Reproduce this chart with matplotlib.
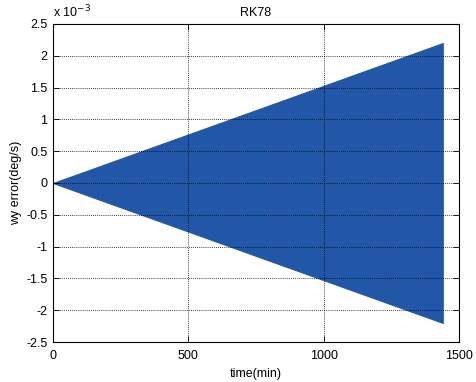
import numpy as np
import matplotlib.pyplot as plt

plt.rcParams['font.family'] = ['Liberation Sans', 'DejaVu Sans']
plt.rcParams['font.size'] = 9

# envelope of the wy error oscillation (deg/s)
time_min = [0, 1440]
wy_err_peak = [0.0, 2.2e-3]

xticks = [0, 500, 1000, 1500]
yticks = [-2.5, -2, -1.5, -1, -0.5, 0, 0.5, 1, 1.5, 2, 2.5]

fig = plt.figure(figsize=(4.76, 3.82), dpi=100)
ax = fig.add_axes([0.1113, 0.1047, 0.8530, 0.8325])

t = np.array(time_min)
env = np.array(wy_err_peak)
ax.fill_between(t, -env, env, color='#2256a7', linewidth=0.8, edgecolor='#2256a7')

ax.set_xlim(0, 1500)
ax.set_ylim(-2.5e-3, 2.5e-3)
ax.set_xticks(xticks)
ax.set_yticks([v * 1e-3 for v in yticks])
ax.set_yticklabels([('%g' % v) for v in yticks])
ax.tick_params(direction='in', top=True, right=True, length=4, width=0.6)
ax.tick_params(axis='x', pad=6)
ax.tick_params(axis='y', pad=4)
ax.grid(True, color='black', linestyle=(0, (1, 1.5)), linewidth=0.6)
for s in ax.spines.values():
    s.set_linewidth(0.8)

ax.text(0.0, 1.012, r'x 10$^{-3}$', transform=ax.transAxes, ha='left', va='bottom', fontsize=9)
ax.set_title('RK78', fontsize=9, pad=6)
ax.set_xlabel('time(min)', labelpad=4)
ax.set_ylabel('wy error(deg/s)', labelpad=3)

fig.savefig('out.png', dpi=100)
